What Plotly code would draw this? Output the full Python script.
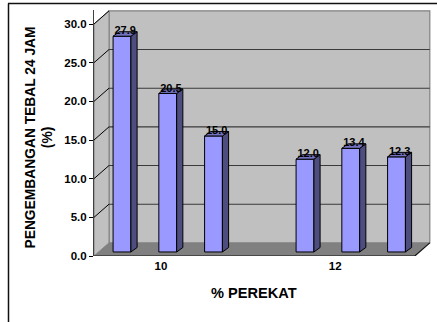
import plotly.graph_objects as go

# Mean 24-hour thickness swelling by adhesive content
categories = ["10", "12"]
category_ticks = [0.85, 4.66]
bar_slots = [0, 1, 2, 4, 5, 6]
swelling = [27.9, 20.5, 15.0, 12.0, 13.4, 12.3]
y_ticks = [0, 5, 10, 15, 20, 25, 30]

# Fake-3D box geometry, in axis units
WIDTH, HEIGHT = 437, 322
DEPTH_X, DEPTH_Y = 0.328, 1.70
BAR_WIDTH = 0.39
BAR_LIFT = 0.52
BAR_DX, BAR_DY = 0.135, 0.58
X_LEFT, X_FLOOR_END = -0.612, 6.40
X_RANGE = [X_LEFT, 6.754]
Y_RANGE = [0, 31.81]
WALL = "#c0c0c0"
EDGE = "#808080"
FONT = "Liberation Sans, Arial, sans-serif"


def polygon_path(points):
    return "M " + " L ".join(f"{x} {y}" for x, y in points) + " Z"


def segment(x0, y0, x1, y1, color, width=1):
    return dict(type="line", x0=x0, y0=y0, x1=x1, y1=y1, xref="x", yref="y",
                layer="below", line=dict(color=color, width=width))


shapes = [
    # back wall
    dict(type="rect", xref="x", yref="y", layer="below",
         x0=X_LEFT + DEPTH_X, x1=X_FLOOR_END + DEPTH_X,
         y0=DEPTH_Y, y1=30 + DEPTH_Y, fillcolor=WALL,
         line=dict(color=EDGE, width=1.2)),
    # side wall
    dict(type="path", xref="x", yref="y", layer="below",
         path=polygon_path([(X_LEFT, 0), (X_LEFT + DEPTH_X, DEPTH_Y),
                            (X_LEFT + DEPTH_X, 30 + DEPTH_Y), (X_LEFT, 30)]),
         fillcolor=WALL, line=dict(color=EDGE, width=1)),
    # floor
    dict(type="path", xref="x", yref="y", layer="below",
         path=polygon_path([(X_LEFT, 0), (X_FLOOR_END, 0),
                            (X_FLOOR_END + DEPTH_X, DEPTH_Y),
                            (X_LEFT + DEPTH_X, DEPTH_Y)]),
         fillcolor=EDGE, line=dict(width=0)),
]
# gridlines along the back wall
for v in y_ticks[1:-1]:
    shapes.append(segment(X_LEFT + DEPTH_X, v + DEPTH_Y,
                          X_FLOOR_END + DEPTH_X, v + DEPTH_Y, "#3a3a3a", 1.1))
# outer frame, top and left only
for x0, y0, x1, y1 in [(8 / WIDTH, 1 - 3.5 / HEIGHT, 1, 1 - 3.5 / HEIGHT),
                       (8.5 / WIDTH, 0, 8.5 / WIDTH, 1 - 3.5 / HEIGHT)]:
    shapes.append(dict(type="line", xref="paper", yref="paper", x0=x0, y0=y0,
                       x1=x1, y1=y1, line=dict(color="#111111", width=1.5)))

fig = go.Figure()

# Bar front faces
fig.add_trace(go.Bar(
    x=bar_slots, y=swelling, base=BAR_LIFT, width=BAR_WIDTH,
    marker=dict(color="#9999ff", line=dict(color="#000000", width=1)),
    cliponaxis=False, showlegend=False, hoverinfo="skip",
))

# Bar top and right faces
side_x, side_y, top_x, top_y = [], [], [], []
for slot, value in zip(bar_slots, swelling):
    right = slot + BAR_WIDTH / 2
    left = slot - BAR_WIDTH / 2
    top = value + BAR_LIFT
    side_x += [right, right + BAR_DX, right + BAR_DX, right, right, None]
    side_y += [BAR_LIFT, BAR_LIFT + BAR_DY, top + BAR_DY, top, BAR_LIFT, None]
    top_x += [left, right, right + BAR_DX, left + BAR_DX, left, None]
    top_y += [top, top, top + BAR_DY, top + BAR_DY, top, None]
for xs, ys, fill in [(side_x, side_y, "#4d4d80"), (top_x, top_y, "#7272bf")]:
    fig.add_trace(go.Scatter(
        x=xs, y=ys, mode="lines", fill="toself", fillcolor=fill,
        line=dict(color="#000000", width=1), cliponaxis=False,
        showlegend=False, hoverinfo="skip",
    ))

# Slanted tick marks across the side wall, base line and corner tick
tick_x, tick_y = [], []
for v in y_ticks[1:]:
    tick_x += [X_LEFT, X_LEFT + DEPTH_X, None]
    tick_y += [v, v + DEPTH_Y, None]
fig.add_trace(go.Scatter(
    x=tick_x, y=tick_y, mode="lines", line=dict(color="#000000", width=1),
    cliponaxis=False, showlegend=False, hoverinfo="skip",
))
fig.add_trace(go.Scatter(
    x=[X_LEFT, X_LEFT, None, X_LEFT, X_FLOOR_END, X_FLOOR_END + DEPTH_X],
    y=[-0.45, 0, None, 0, 0, DEPTH_Y], mode="lines",
    line=dict(color="#111111", width=1.2),
    cliponaxis=False, showlegend=False, hoverinfo="skip",
))

# Value labels
fig.add_trace(go.Scatter(
    x=[s + 0.07 for s in bar_slots], y=[v + BAR_LIFT + 0.6 for v in swelling],
    mode="text", text=[f"{v:.1f}" for v in swelling], textposition="middle center",
    textfont=dict(family=FONT, size=11, color="#000000", weight=700),
    cliponaxis=False, showlegend=False, hoverinfo="skip",
))

annotations = [
    dict(text="PENGEMBANGAN TEBAL 24 JAM<br>(%)", xref="paper", yref="paper",
         x=38.5 / WIDTH, y=1 - 138 / HEIGHT, textangle=-90, showarrow=False,
         font=dict(family=FONT, size=13.8, color="#000000", weight=700),
         align="center", xanchor="center", yanchor="middle"),
    dict(text="% PEREKAT", xref="paper", yref="paper",
         x=254 / WIDTH, y=1 - 293 / HEIGHT, showarrow=False,
         font=dict(family=FONT, size=14.6, color="#000000", weight=700),
         xanchor="center", yanchor="middle"),
]

fig.update_layout(
    width=WIDTH, height=HEIGHT, autosize=False,
    margin=dict(l=0, r=0, t=0, b=0, autoexpand=False),
    paper_bgcolor="#ffffff", plot_bgcolor="#ffffff",
    shapes=shapes, annotations=annotations, showlegend=False,
    xaxis=dict(
        domain=[94 / WIDTH, 431 / WIDTH], range=X_RANGE, showgrid=False,
        zeroline=False, showline=False, ticks="", tickmode="array",
        tickvals=category_ticks, ticktext=categories, ticklabelstandoff=1,
        tickfont=dict(family=FONT, size=11.5, color="#000000", weight=700),
    ),
    yaxis=dict(
        domain=[(HEIGHT - 256) / HEIGHT, (HEIGHT - 10) / HEIGHT], range=Y_RANGE,
        showgrid=False, zeroline=False, showline=True, linecolor="#404040",
        linewidth=1, ticks="outside", ticklen=4, tickcolor="#000000",
        tickmode="array", tickvals=y_ticks,
        ticktext=[f"{v:.1f}" for v in y_ticks],
        tickfont=dict(family=FONT, size=11.5, color="#000000", weight=700),
    ),
)

fig.write_html("out.html")
